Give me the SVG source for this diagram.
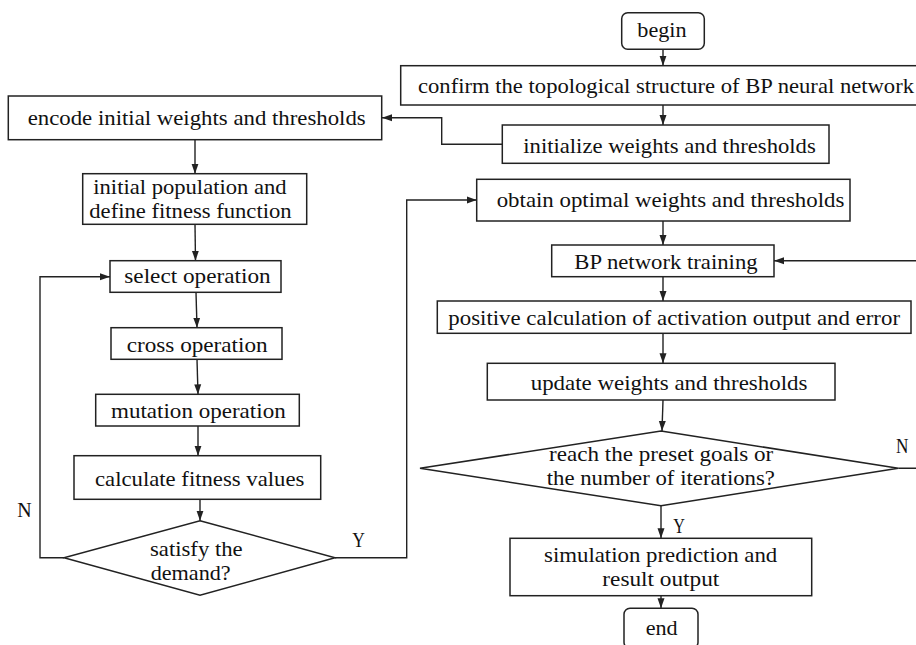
<svg xmlns="http://www.w3.org/2000/svg" width="916" height="645" viewBox="0 0 916 645">
<defs>
<style>
.box{fill:#fff;stroke:#222;stroke-width:1.5}
.t{font-family:"Liberation Serif","Times New Roman",serif;font-size:21.5px;fill:#111}
.c{fill:none;stroke:#222;stroke-width:1.4}
</style>
<marker id="ah" markerUnits="userSpaceOnUse" markerWidth="10" markerHeight="10" viewBox="0 0 10 10" refX="10" refY="5" orient="auto">
<path d="M0,1.5 L10,5 L0,8.5 Z" fill="#222"/>
</marker>
</defs>
<rect width="916" height="645" fill="#fff"/>
<g id="connectors">
<line class="c" x1="663" y1="49.3" x2="663" y2="65.7" marker-end="url(#ah)"/>
<line class="c" x1="663" y1="105" x2="663" y2="125" marker-end="url(#ah)"/>
<polyline class="c" points="502.3,144.3 441.7,144.3 441.7,117.7 382,117.7" marker-end="url(#ah)"/>
<line class="c" x1="195" y1="139.7" x2="195" y2="173.7" marker-end="url(#ah)"/>
<line class="c" x1="195" y1="224.3" x2="195.5" y2="260.7" marker-end="url(#ah)"/>
<line class="c" x1="196" y1="292.3" x2="197" y2="327.7" marker-end="url(#ah)"/>
<line class="c" x1="197" y1="359.3" x2="198" y2="394.3" marker-end="url(#ah)"/>
<line class="c" x1="198" y1="426" x2="198" y2="455.7" marker-end="url(#ah)"/>
<line class="c" x1="200" y1="499.3" x2="200" y2="520.7" marker-end="url(#ah)"/>
<polyline class="c" points="64,557.7 40,557.7 40,276.7 110,276.7" marker-end="url(#ah)"/>
<polyline class="c" points="335,557.7 406.7,557.7 406.7,200 476.7,200" marker-end="url(#ah)"/>
<line class="c" x1="663" y1="221" x2="663" y2="245" marker-end="url(#ah)"/>
<line class="c" x1="663" y1="276.7" x2="663" y2="301" marker-end="url(#ah)"/>
<line class="c" x1="663" y1="333.3" x2="663" y2="363.3" marker-end="url(#ah)"/>
<line class="c" x1="663" y1="400" x2="662" y2="431" marker-end="url(#ah)"/>
<line class="c" x1="661" y1="505.7" x2="661" y2="538.3" marker-end="url(#ah)"/>
<line class="c" x1="661" y1="595.7" x2="661" y2="608.3" marker-end="url(#ah)"/>
<polyline class="c" points="898.3,468.3 922,468.3 922,260.7 774,260.7" marker-end="url(#ah)"/>
</g>
<g id="begin">
<rect class="box" x="621.7" y="12.7" width="82.6" height="36.6" rx="6"/>
<text class="t" x="637.3" y="37.3" textLength="49.3" lengthAdjust="spacingAndGlyphs">begin</text>
</g>
<g id="confirm">
<rect class="box" x="400.7" y="65.7" width="530" height="39.3"/>
<text class="t" x="418" y="93" textLength="496" lengthAdjust="spacingAndGlyphs">confirm the topological structure of BP neural network</text>
</g>
<g id="initialize">
<rect class="box" x="502.3" y="125" width="326.7" height="38.3"/>
<text class="t" x="523.3" y="153.3" textLength="292.4" lengthAdjust="spacingAndGlyphs">initialize weights and thresholds</text>
</g>
<g id="encode">
<rect class="box" x="8.3" y="96" width="373.4" height="43.7"/>
<text class="t" x="27.7" y="125" textLength="338" lengthAdjust="spacingAndGlyphs">encode initial weights and thresholds</text>
</g>
<g id="initpop">
<rect class="box" x="82.7" y="173.7" width="224" height="50.6"/>
<text class="t" x="93.3" y="194" textLength="193.3" lengthAdjust="spacingAndGlyphs">initial population and</text>
<text class="t" x="89.3" y="218.3" textLength="202.3" lengthAdjust="spacingAndGlyphs">define fitness function</text>
</g>
<g id="select">
<rect class="box" x="110" y="260.7" width="171" height="31.6"/>
<text class="t" x="124.3" y="283.3" textLength="146.3" lengthAdjust="spacingAndGlyphs">select operation</text>
</g>
<g id="cross">
<rect class="box" x="111" y="327.7" width="171" height="31.6"/>
<text class="t" x="126.7" y="351.7" textLength="141" lengthAdjust="spacingAndGlyphs">cross operation</text>
</g>
<g id="mutation">
<rect class="box" x="95.7" y="394.3" width="203.6" height="31.7"/>
<text class="t" x="111" y="418.3" textLength="174.7" lengthAdjust="spacingAndGlyphs">mutation operation</text>
</g>
<g id="calc">
<rect class="box" x="74" y="455.7" width="246.7" height="43.6"/>
<text class="t" x="95" y="485.7" textLength="209.3" lengthAdjust="spacingAndGlyphs">calculate fitness values</text>
</g>
<g id="satisfy">
<polygon class="box" points="200,520.7 335,557.7 200,595.3 64,557.7"/>
<text class="t" x="150" y="556" textLength="92.7" lengthAdjust="spacingAndGlyphs">satisfy the</text>
<text class="t" x="150.7" y="580" textLength="80" lengthAdjust="spacingAndGlyphs">demand?</text>
</g>
<g id="labels-left">
<text class="t" x="17.3" y="517.3" textLength="14.4" lengthAdjust="spacingAndGlyphs">N</text>
<text class="t" x="352.3" y="546.7" textLength="12.7" lengthAdjust="spacingAndGlyphs">Y</text>
</g>
<g id="obtain">
<rect class="box" x="476.7" y="179.3" width="373.3" height="41.7"/>
<text class="t" x="496.7" y="206.7" textLength="347.7" lengthAdjust="spacingAndGlyphs">obtain optimal weights and thresholds</text>
</g>
<g id="bptrain">
<rect class="box" x="551.7" y="245" width="222.3" height="31.7"/>
<text class="t" x="574.3" y="269.3" textLength="183.3" lengthAdjust="spacingAndGlyphs">BP network training</text>
</g>
<g id="positive">
<rect class="box" x="437.3" y="301" width="473.7" height="32.3"/>
<text class="t" x="448.3" y="325" textLength="451.7" lengthAdjust="spacingAndGlyphs">positive calculation of activation output and error</text>
</g>
<g id="update">
<rect class="box" x="487.3" y="363.3" width="347.7" height="36.7"/>
<text class="t" x="530.7" y="390" textLength="276.7" lengthAdjust="spacingAndGlyphs">update weights and thresholds</text>
</g>
<g id="reach">
<polygon class="box" points="661,431 898.3,468.3 661,505.7 420,468.3"/>
<text class="t" x="549" y="460.7" textLength="224.3" lengthAdjust="spacingAndGlyphs">reach the preset goals or</text>
<text class="t" x="546.7" y="485" textLength="228.3" lengthAdjust="spacingAndGlyphs">the number of iterations?</text>
</g>
<g id="labels-right">
<text class="t" x="896" y="453.3" textLength="12.4" lengthAdjust="spacingAndGlyphs">N</text>
<text class="t" x="673.3" y="533.3" textLength="11.7" lengthAdjust="spacingAndGlyphs">Y</text>
</g>
<g id="simulation">
<rect class="box" x="510" y="538.3" width="301.7" height="57.4"/>
<text class="t" x="544" y="561.7" textLength="233.3" lengthAdjust="spacingAndGlyphs">simulation prediction and</text>
<text class="t" x="602.3" y="586" textLength="117" lengthAdjust="spacingAndGlyphs">result output</text>
</g>
<g id="end">
<rect class="box" x="624" y="608.3" width="74" height="40" rx="6"/>
<text class="t" x="645.7" y="635" textLength="32" lengthAdjust="spacingAndGlyphs">end</text>
</g>
</svg>
